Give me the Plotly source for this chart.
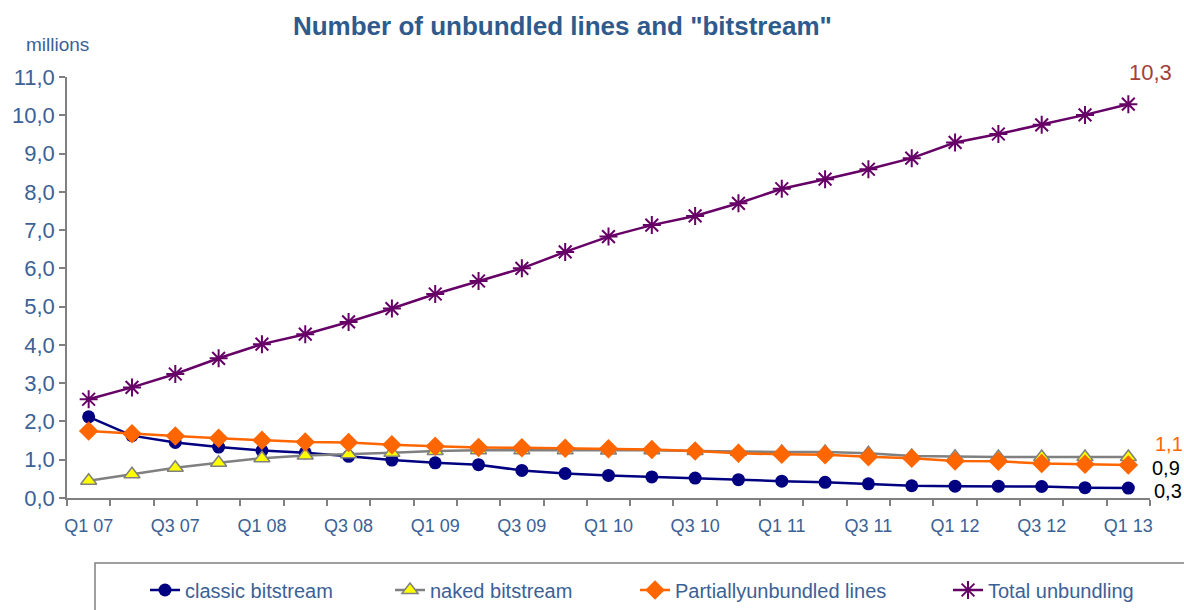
import plotly.graph_objects as go

quarters = ["Q1 07", "Q2 07", "Q3 07", "Q4 07", "Q1 08", "Q2 08", "Q3 08", "Q4 08",
            "Q1 09", "Q2 09", "Q3 09", "Q4 09", "Q1 10", "Q2 10", "Q3 10", "Q4 10",
            "Q1 11", "Q2 11", "Q3 11", "Q4 11", "Q1 12", "Q2 12", "Q3 12", "Q4 12", "Q1 13"]

classic_bitstream = [2.12, 1.63, 1.45, 1.33, 1.24, 1.18, 1.09, 0.99, 0.92, 0.87, 0.72, 0.64, 0.59,
                     0.55, 0.52, 0.48, 0.44, 0.41, 0.37, 0.32, 0.31, 0.31, 0.30, 0.27, 0.26]
naked_bitstream = [0.45, 0.62, 0.79, 0.92, 1.04, 1.11, 1.14, 1.18, 1.23, 1.25, 1.25, 1.25, 1.24,
                   1.25, 1.23, 1.21, 1.20, 1.20, 1.17, 1.10, 1.08, 1.07, 1.07, 1.07, 1.07]
partially_unbundled = [1.75, 1.68, 1.62, 1.56, 1.51, 1.46, 1.45, 1.39, 1.35, 1.32, 1.31, 1.30, 1.29,
                       1.27, 1.23, 1.17, 1.14, 1.13, 1.08, 1.04, 0.97, 0.96, 0.90, 0.88, 0.86]
total_unbundling = [2.58, 2.89, 3.24, 3.65, 4.02, 4.28, 4.60, 4.95, 5.33, 5.67, 6.00, 6.43, 6.83,
                    7.13, 7.37, 7.70, 8.08, 8.33, 8.59, 8.88, 9.29, 9.51, 9.75, 10.01, 10.29]

y_ticks = [0, 1, 2, 3, 4, 5, 6, 7, 8, 9, 10, 11]

FONT = "Arial, Liberation Sans, sans-serif"
BLUE_TXT = "#3B6196"

x = list(range(len(quarters)))

fig = go.Figure()

fig.add_trace(go.Scatter(
    x=x, y=classic_bitstream, name="classic bitstream", mode="lines+markers",
    line=dict(color="#000080", width=2.5),
    marker=dict(symbol="circle", size=13, color="#000080"),
    legend="legend"))
fig.add_trace(go.Scatter(
    x=x, y=naked_bitstream, name="naked bitstream", mode="lines+markers",
    line=dict(color="#808080", width=2.5),
    marker=dict(symbol="triangle-up", size=14, color="#FFFF00", line=dict(color="#808080", width=1.5)),
    legend="legend2"))
fig.add_trace(go.Scatter(
    x=x, y=partially_unbundled, name="Partiallyunbundled lines", mode="lines+markers",
    line=dict(color="#FF6600", width=2.5),
    marker=dict(symbol="diamond", size=15, color="#FF6600"),
    legend="legend3"))
fig.add_trace(go.Scatter(
    x=x, y=total_unbundling, name="Total unbundling", mode="lines+markers",
    line=dict(color="#660066", width=2.5),
    marker=dict(symbol="asterisk-open", size=15, color="#660066", line=dict(color="#660066", width=2)),
    legend="legend4"))


def fmt(v):
    return f"{v:.1f}".replace(".", ",")


last = x[-1]
LBL = 20
annotations = [
    dict(x=last, y=total_unbundling[-1], text=fmt(total_unbundling[-1]), showarrow=False,
         xanchor="center", yanchor="middle", xshift=22, yshift=32,
         font=dict(family=FONT, size=22, color="#A0413C")),
    dict(x=last, y=naked_bitstream[-1], text=fmt(naked_bitstream[-1]), showarrow=False,
         xanchor="left", yanchor="middle", xshift=25, yshift=13,
         font=dict(family=FONT, size=LBL, color="#FF6600")),
    dict(x=last, y=partially_unbundled[-1], text=fmt(partially_unbundled[-1]), showarrow=False,
         xanchor="left", yanchor="middle", xshift=22, yshift=-3,
         font=dict(family=FONT, size=LBL, color="#000000")),
    dict(x=last, y=classic_bitstream[-1], text=fmt(classic_bitstream[-1]), showarrow=False,
         xanchor="left", yanchor="middle", xshift=24, yshift=-3,
         font=dict(family=FONT, size=LBL, color="#000000")),
    dict(xref="paper", yref="paper", x=(57 - 67) / 1083, y=(498 - 45) / 421, text="millions",
         showarrow=False, xanchor="center", yanchor="middle",
         font=dict(family=FONT, size=19, color=BLUE_TXT)),
]

legend_common = dict(orientation="h", xref="paper", yref="paper", xanchor="left",
                     yanchor="middle", y=(498 - 590) / 421,
                     bgcolor="rgba(0,0,0,0)", borderwidth=0,
                     font=dict(family=FONT, size=20, color=BLUE_TXT))

fig.update_layout(
    width=1184, height=610,
    margin=dict(l=67, r=34, t=77, b=112, autoexpand=False),
    paper_bgcolor="white", plot_bgcolor="white",
    showlegend=True,
    title=dict(text='Number of unbundled lines and "bitstream"', x=0.475, xanchor="center",
               y=0.958, yanchor="middle",
               font=dict(family=FONT, size=26, color="#2E5A8C", weight="bold")),
    xaxis=dict(range=[-0.5, len(quarters) - 0.5], tickmode="array",
               tickvals=x[::2], ticktext=quarters[::2], ticks="", showgrid=False, zeroline=False,
               showline=True, linecolor="#808080", linewidth=1.5,
               tickfont=dict(family=FONT, size=18, color=BLUE_TXT),
               minor=dict(tickmode="array", tickvals=[i - 0.5 for i in range(len(quarters) + 1)],
                          ticks="outside", ticklen=6, tickcolor="#808080", tickwidth=1.5, showgrid=False),
               ticklabelstandoff=11),
    yaxis=dict(range=[0, 11], tickmode="array", tickvals=y_ticks,
               ticktext=[fmt(v) for v in y_ticks], ticks="outside", ticklen=6,
               tickcolor="#808080", tickwidth=1.5, showgrid=False, zeroline=False,
               showline=True, linecolor="#808080", linewidth=1.5,
               tickfont=dict(family=FONT, size=22, color=BLUE_TXT)),
    annotations=annotations,
    shapes=[dict(type="rect", xref="paper", yref="paper",
                 x0=(95 - 67) / 1083, x1=(1200 - 67) / 1083,
                 y0=(498 - 563) / 421, y1=(498 - 625) / 421,
                 line=dict(color="#808080", width=1.5), fillcolor="rgba(0,0,0,0)")],
    legend=dict(x=(145 - 67) / 1083, **legend_common),
    legend2=dict(x=(390 - 67) / 1083, **legend_common),
    legend3=dict(x=(635 - 67) / 1083, **legend_common),
    legend4=dict(x=(948 - 67) / 1083, **legend_common),
)

fig.write_html("out.html")
